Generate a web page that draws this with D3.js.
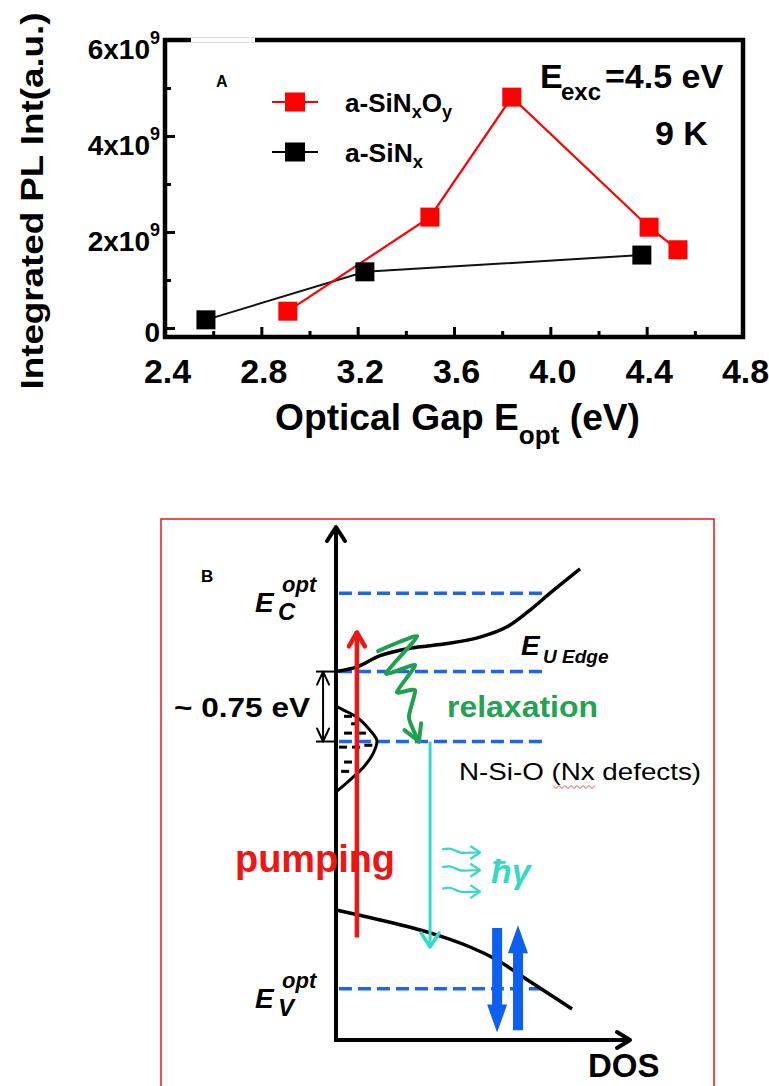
<!DOCTYPE html>
<html>
<head>
<meta charset="utf-8">
<script src="https://cdn.jsdelivr.net/npm/d3@7"></script>
<style>
  body { margin: 0; background: #fff; }
  svg { display: block; }
  text { font-family: "Liberation Sans", Arial, sans-serif; }
</style>
</head>
<body>
<div id="chart"></div>
<script>
// ---- panel A data (optical gap in eV, integrated PL in 1e9 a.u.) ----
const gapTicks = [2.4, 2.8, 3.2, 3.6, 4.0, 4.4, 4.8];
const intTicks = [0, 2, 4, 6];
const sinoxGap = [2.91, 3.50, 3.84, 4.41, 4.53];
const sinoxInt = [0.35, 2.31, 4.81, 2.10, 1.63];
const sinGap = [2.57, 3.23, 4.38];
const sinInt = [0.17, 1.17, 1.52];

// ---- panel B data (energy in eV above E_V, DOS in arbitrary units) ----
const levelE = [4.24, 3.40, 2.65, 0];           // Ec, U-edge, defect, Ev
const condDos = [0, 0.071, 0.150, 0.252, 0.378, 0.490, 0.582, 0.660, 0.728, 0.830];
const condE   = [3.40, 3.45, 3.57, 3.65, 3.70, 3.77, 3.88, 4.06, 4.24, 4.50];
const valDos  = [0, 0.150, 0.320, 0.456, 0.548, 0.626, 0.704, 0.803];
const valE    = [0.844, 0.737, 0.598, 0.447, 0.308, 0.147, -0.014, -0.218];
const bandDos = [0, 0.024, 0.071, 0.116, 0.139, 0.126, 0.092, 0.048, 0];
const bandE   = [3.03, 2.99, 2.91, 2.77, 2.66, 2.52, 2.37, 2.24, 2.11];
const dashDos = [0.041, 0.065, 0.041, 0.088, 0.024, 0.068, 0.110, 0.041, 0.031];
const dashE   = [2.92, 2.84, 2.74, 2.74, 2.59, 2.59, 2.61, 2.43, 2.33];
const zigDos  = [0.143, 0.276, 0.170, 0.269, 0.207, 0.269, 0.248, 0.282];
const zigE    = [3.62, 3.78, 3.38, 3.47, 3.18, 3.20, 2.91, 2.65];
const pumpDos = 0.071, pumpE = [0.55, 3.82];
const emitDos = 0.320, emitE = [2.65, 0.447];
const photonE = [1.46, 1.27, 1.04];
const downDos = 0.548, downE = [0.65, -0.47];
const upDos = 0.619, upE = [-0.445, 0.68];

const svg = d3.select("#chart").append("svg")
  .attr("width", 769)
  .attr("height", 1086);

// ================= panel A =================
const x = d3.scaleLinear().domain([2.4, 4.8]).range([165, 743]);
const y = d3.scaleLinear().domain([0, 6]).range([328, 40]);
const frameBottom = 337;

const gA = svg.append("g").attr("class", "panel-a");

const minorGap = d3.pairs(gapTicks).map(([a, b]) => (a + b) / 2);
const xAxis = d3.axisBottom(x)
  .tickValues(gapTicks.concat(minorGap))
  .tickSizeOuter(0)
  .tickFormat(d => gapTicks.includes(d) ? d.toFixed(1) : "");
const gx = gA.append("g")
  .attr("transform", `translate(0,${frameBottom})`)
  .call(xAxis);
gx.select(".domain").remove();
gx.selectAll("line")
  .attr("stroke", "#000")
  .attr("stroke-width", 3)
  .attr("y2", d => gapTicks.includes(d) ? -10 : -6);
gx.selectAll("text")
  .attr("y", 46).attr("dy", null).attr("dx", 2)
  .attr("font-size", 34).attr("font-weight", "bold").attr("fill", "#000");

const minorInt = d3.pairs(intTicks).map(([a, b]) => (a + b) / 2);
const yAxis = d3.axisLeft(y)
  .tickValues(intTicks.concat(minorInt))
  .tickSizeOuter(0)
  .tickFormat("");
const gy = gA.append("g")
  .attr("transform", "translate(165,0)")
  .call(yAxis);
gy.select(".domain").remove();
gy.selectAll("line")
  .attr("stroke", "#000")
  .attr("stroke-width", 3)
  .attr("x2", d => intTicks.includes(d) ? 10 : 6);

const yLab = gA.selectAll(".ylab").data(intTicks).join("text")
  .attr("class", "ylab")
  .attr("x", 160)
  .attr("y", d => y(d) + (d === 0 ? 14 : 19))
  .attr("text-anchor", "end")
  .attr("font-weight", "bold")
  .attr("font-size", 28);
yLab.filter(d => d !== 0).each(function(d) {
  const t = d3.select(this);
  t.append("tspan").text(d + "x10");
  t.append("tspan").attr("font-size", 18).attr("dy", -15).text("9");
});
yLab.filter(d => d === 0).text("0");

// frame
gA.append("rect")
  .attr("x", 165).attr("y", 40)
  .attr("width", 743 - 165).attr("height", frameBottom - 40)
  .attr("fill", "none").attr("stroke", "#000").attr("stroke-width", 4.5);
gA.append("line")
  .attr("x1", 191).attr("x2", 255).attr("y1", 40).attr("y2", 40)
  .attr("stroke", "#fff").attr("stroke-width", 5);

const line = d3.line().x(d => x(d[0])).y(d => y(d[1]));
const sinoxPts = d3.zip(sinoxGap, sinoxInt);
const sinPts = d3.zip(sinGap, sinInt);

gA.append("path").attr("d", line(sinPts))
  .attr("fill", "none").attr("stroke", "#111").attr("stroke-width", 2);
gA.append("path").attr("d", line(sinoxPts))
  .attr("fill", "none").attr("stroke", "#ff0000").attr("stroke-width", 2.2);
const sq = 19;
gA.selectAll(".sin").data(sinPts).join("rect")
  .attr("x", d => x(d[0]) - sq / 2).attr("y", d => y(d[1]) - sq / 2)
  .attr("width", sq).attr("height", sq).attr("fill", "#000");
gA.selectAll(".sinox").data(sinoxPts).join("rect")
  .attr("x", d => x(d[0]) - sq / 2).attr("y", d => y(d[1]) - sq / 2)
  .attr("width", sq).attr("height", sq).attr("fill", "#ff0000");

// legend
const legend = [
  { color: "#ff0000", yy: 102, parts: [["a-SiN", 0], ["x", 1], ["O", 0], ["y", 1]], len: 107 },
  { color: "#000", yy: 152, parts: [["a-SiN", 0], ["x", 1]], len: 78 }
];
legend.forEach(l => {
  gA.append("line").attr("x1", 272).attr("x2", 318).attr("y1", l.yy).attr("y2", l.yy)
    .attr("stroke", l.color).attr("stroke-width", 2);
  gA.append("rect").attr("x", 295 - 10).attr("y", l.yy - 9.5)
    .attr("width", 20).attr("height", 19).attr("fill", l.color);
  const t = gA.append("text").attr("x", 345).attr("y", l.yy + 10)
    .attr("font-family", "'Open Sans', 'Noto Sans', sans-serif")
    .attr("font-weight", "bold")
    .attr("textLength", l.len).attr("lengthAdjust", "spacingAndGlyphs");
  let prev = 0;
  l.parts.forEach(([s, sub]) => {
    t.append("tspan").attr("font-size", sub ? 18 : 26)
      .attr("dy", (sub - prev) * 6).text(s);
    prev = sub;
  });
});

gA.append("text").attr("x", 216).attr("y", 87)
  .attr("font-size", 16).attr("font-weight", "bold").text("A");

const eexc = gA.append("text").attr("font-weight", "bold");
eexc.append("tspan").attr("x", 540).attr("y", 88).attr("font-size", 34).text("E");
eexc.append("tspan").attr("x", 561).attr("y", 100).attr("font-size", 24).text("exc");
eexc.append("tspan").attr("x", 605).attr("y", 88).attr("font-size", 34).text("=4.5 eV");
gA.append("text").attr("x", 655).attr("y", 145)
  .attr("font-size", 34).attr("font-weight", "bold").text("9 K");

gA.append("text")
  .attr("transform", "translate(43,201) rotate(-90)")
  .attr("text-anchor", "middle")
  .attr("font-size", 32).attr("font-weight", "bold")
  .attr("textLength", 377).attr("lengthAdjust", "spacingAndGlyphs")
  .text("Integrated PL Int(a.u.)");

const xt = gA.append("text").attr("x", 275).attr("y", 430)
  .attr("font-weight", "bold")
  .attr("textLength", 365).attr("lengthAdjust", "spacingAndGlyphs");
xt.append("tspan").attr("font-size", 37).text("Optical Gap E");
xt.append("tspan").attr("font-size", 26).attr("dy", 14).text("opt");
xt.append("tspan").attr("font-size", 37).attr("dy", -14).text(" (eV)");

// ================= panel B =================
const dos = d3.scaleLinear().domain([0, 1]).range([336, 630]);
const en = d3.scaleLinear().domain([-0.55, 4.95]).range([1040, 527]);
const gB = svg.append("g").attr("class", "panel-b");

gB.append("rect")
  .attr("x", 161).attr("y", 519).attr("width", 553).attr("height", 600)
  .attr("fill", "none").attr("stroke", "#e8262b").attr("stroke-width", 1.6);

function vHead(g, tx, ty, ang, len, half, color, sw) {
  const c = Math.cos(ang), s = Math.sin(ang);
  const bx = tx - len * c, by = ty - len * s;
  g.append("path")
    .attr("d", `M${bx - half * s},${by + half * c}L${tx},${ty}L${bx + half * s},${by - half * c}`)
    .attr("fill", "none").attr("stroke", color).attr("stroke-width", sw)
    .attr("stroke-linecap", "round").attr("stroke-linejoin", "round");
}

// blue dashed levels
gB.selectAll(".level").data(levelE).join("line")
  .attr("x1", dos(0.01)).attr("x2", dos(0.72))
  .attr("y1", d => en(d)).attr("y2", d => en(d))
  .attr("stroke", "#1a66f0").attr("stroke-width", 3.5)
  .attr("stroke-dasharray", "13 6");

const curve = d3.line().x(d => dos(d[0])).y(d => en(d[1])).curve(d3.curveCatmullRom);
gB.append("path").attr("d", curve(d3.zip(condDos, condE)))
  .attr("fill", "none").attr("stroke", "#000").attr("stroke-width", 3.5);
gB.append("path").attr("d", curve(d3.zip(valDos, valE)))
  .attr("fill", "none").attr("stroke", "#000").attr("stroke-width", 3.5);

gB.append("path").attr("d", curve(d3.zip(bandDos, bandE)))
  .attr("fill", "none").attr("stroke", "#000").attr("stroke-width", 3);
gB.selectAll(".dash").data(d3.zip(dashDos, dashE)).join("line")
  .attr("x1", d => dos(d[0]) - 4).attr("x2", d => dos(d[0]) + 4)
  .attr("y1", d => en(d[1])).attr("y2", d => en(d[1]))
  .attr("stroke", "#000").attr("stroke-width", 3);

// axes with open arrows
gB.append("line")
  .attr("x1", dos(0)).attr("x2", dos(0)).attr("y1", en(-0.55)).attr("y2", en(4.95))
  .attr("stroke", "#000").attr("stroke-width", 4);
vHead(gB, dos(0), en(4.95), -Math.PI / 2, 14, 9, "#000", 4);
gB.append("line")
  .attr("x1", dos(0) - 2).attr("x2", dos(1)).attr("y1", en(-0.55)).attr("y2", en(-0.55))
  .attr("stroke", "#000").attr("stroke-width", 4);
vHead(gB, dos(1), en(-0.55), 0, 13, 8, "#000", 4);

// ~0.75 eV bracket
const bx = dos(-0.044);
[levelE[1], levelE[2]].forEach(e => {
  gB.append("line").attr("x1", dos(-0.068)).attr("x2", dos(0))
    .attr("y1", en(e)).attr("y2", en(e)).attr("stroke", "#000").attr("stroke-width", 2);
});
gB.append("line").attr("x1", bx).attr("x2", bx)
  .attr("y1", en(levelE[1])).attr("y2", en(levelE[2]))
  .attr("stroke", "#000").attr("stroke-width", 2);
vHead(gB, bx, en(levelE[1]), -Math.PI / 2, 13, 6, "#000", 2);
vHead(gB, bx, en(levelE[2]), Math.PI / 2, 13, 6, "#000", 2);

// pumping arrow
gB.append("line").attr("x1", dos(pumpDos)).attr("x2", dos(pumpDos))
  .attr("y1", en(pumpE[0])).attr("y2", en(pumpE[1]) + 2)
  .attr("stroke", "#f01515").attr("stroke-width", 4.5);
vHead(gB, dos(pumpDos), en(pumpE[1]), -Math.PI / 2, 14, 8, "#f01515", 4.5);

// relaxation zigzag
const zigPts = d3.zip(zigDos, zigE);
const zig = d3.line().x(d => dos(d[0])).y(d => en(d[1])).curve(d3.curveCardinal.tension(0.4));
gB.append("path").attr("d", zig(zigPts))
  .attr("fill", "none").attr("stroke", "#1fa04e").attr("stroke-width", 4)
  .attr("stroke-linecap", "round");
{
  const a = zigPts[zigPts.length - 2], b = zigPts[zigPts.length - 1];
  const ang = Math.atan2(en(b[1]) - en(a[1]), dos(b[0]) - dos(a[0]));
  vHead(gB, dos(b[0]), en(b[1]), ang, 16, 9, "#1fa04e", 4);
}

// emission arrow
gB.append("line").attr("x1", dos(emitDos)).attr("x2", dos(emitDos))
  .attr("y1", en(emitE[0])).attr("y2", en(emitE[1]))
  .attr("stroke", "#38d8c6").attr("stroke-width", 3);
vHead(gB, dos(emitDos), en(emitE[1]), Math.PI / 2, 14, 9, "#38d8c6", 3.5);

// photons
const wave = d3.line().curve(d3.curveBasis);
photonE.forEach(e => {
  const x0 = dos(0.361), x1 = dos(0.49), yy = en(e);
  gB.append("path")
    .attr("d", wave([[x0, yy - 3], [x0 + 9, yy - 5], [x0 + 17, yy + 1], [x0 + 27, yy], [x1, yy]]))
    .attr("fill", "none").attr("stroke", "#38d8c6").attr("stroke-width", 2.2);
  vHead(gB, x1, yy, 0, 9, 6, "#38d8c6", 2.2);
});

// blue block arrows
function blockArrow(xc, yFrom, yTo, color) {
  const dir = yTo > yFrom ? 1 : -1;
  const hl = 28, sw = 5, hw = 10;
  const yb = yTo - dir * hl;
  gB.append("path")
    .attr("d", `M${xc - sw},${yFrom}L${xc - sw},${yb}L${xc - hw},${yb}L${xc},${yTo}` +
      `L${xc + hw},${yb}L${xc + sw},${yb}L${xc + sw},${yFrom}Z`)
    .attr("fill", color);
}
blockArrow(dos(downDos), en(downE[0]), en(downE[1]), "#0d5ff2");
blockArrow(dos(upDos), en(upE[0]), en(upE[1]), "#0d5ff2");

// labels
gB.append("text").attr("x", 201).attr("y", 582)
  .attr("font-size", 17).attr("font-weight", "bold").text("B");

function bandLabel(xE, level, sub, sup) {
  const t = gB.append("g").attr("font-weight", "bold").attr("font-style", "italic");
  t.append("text").attr("x", xE).attr("y", level + 19).attr("font-size", 28).text("E");
  t.append("text").attr("x", xE + 23).attr("y", level + 27).attr("font-size", 24).text(sub);
  t.append("text").attr("x", xE + 27).attr("y", level - 1).attr("font-size", 22).text(sup);
}
bandLabel(255, en(levelE[0]), "C", "opt");
bandLabel(255, en(levelE[3]), "V", "opt");

const eu = gB.append("g").attr("font-weight", "bold").attr("font-style", "italic");
eu.append("text").attr("x", 521).attr("y", en(levelE[1]) - 17).attr("font-size", 28).text("E");
eu.append("text").attr("x", 543).attr("y", en(levelE[1]) - 9).attr("font-size", 19).text("U Edge");

gB.append("text").attr("x", 174).attr("y", 717)
  .attr("font-size", 28).attr("font-weight", "bold")
  .attr("textLength", 136).attr("lengthAdjust", "spacingAndGlyphs")
  .text("~ 0.75 eV");
gB.append("text").attr("x", 447).attr("y", 717)
  .attr("font-size", 30).attr("font-weight", "bold").attr("fill", "#22a34f")
  .attr("textLength", 151).attr("lengthAdjust", "spacingAndGlyphs")
  .text("relaxation");
gB.append("text").attr("x", 459).attr("y", 780)
  .attr("font-family", "'Open Sans', 'Noto Sans', sans-serif").attr("font-size", 24)
  .attr("textLength", 242).attr("lengthAdjust", "spacingAndGlyphs")
  .text("N-Si-O (Nx defects)");
// spell-check squiggle under "Nx"
{
  const pts = [];
  for (let i = 0; i <= 14; i++) pts.push([553 + i * 3, 787 + (i % 2 ? 1.5 : -1.5)]);
  gB.append("path").attr("d", d3.line()(pts))
    .attr("fill", "none").attr("stroke", "#e02020").attr("stroke-width", 0.8);
}
gB.append("text").attr("x", 235).attr("y", 872)
  .attr("font-size", 38).attr("font-weight", "bold").attr("fill", "#f01515")
  .attr("textLength", 160).attr("lengthAdjust", "spacingAndGlyphs")
  .text("pumping");
gB.append("text").attr("x", 491).attr("y", 883)
  .attr("font-size", 34).attr("font-weight", "bold").attr("font-style", "italic")
  .attr("fill", "#38d8c6").text("ħγ");
gB.append("text").attr("x", 588).attr("y", 1077)
  .attr("font-size", 33).attr("font-weight", "bold").text("DOS");
</script>
</body>
</html>
